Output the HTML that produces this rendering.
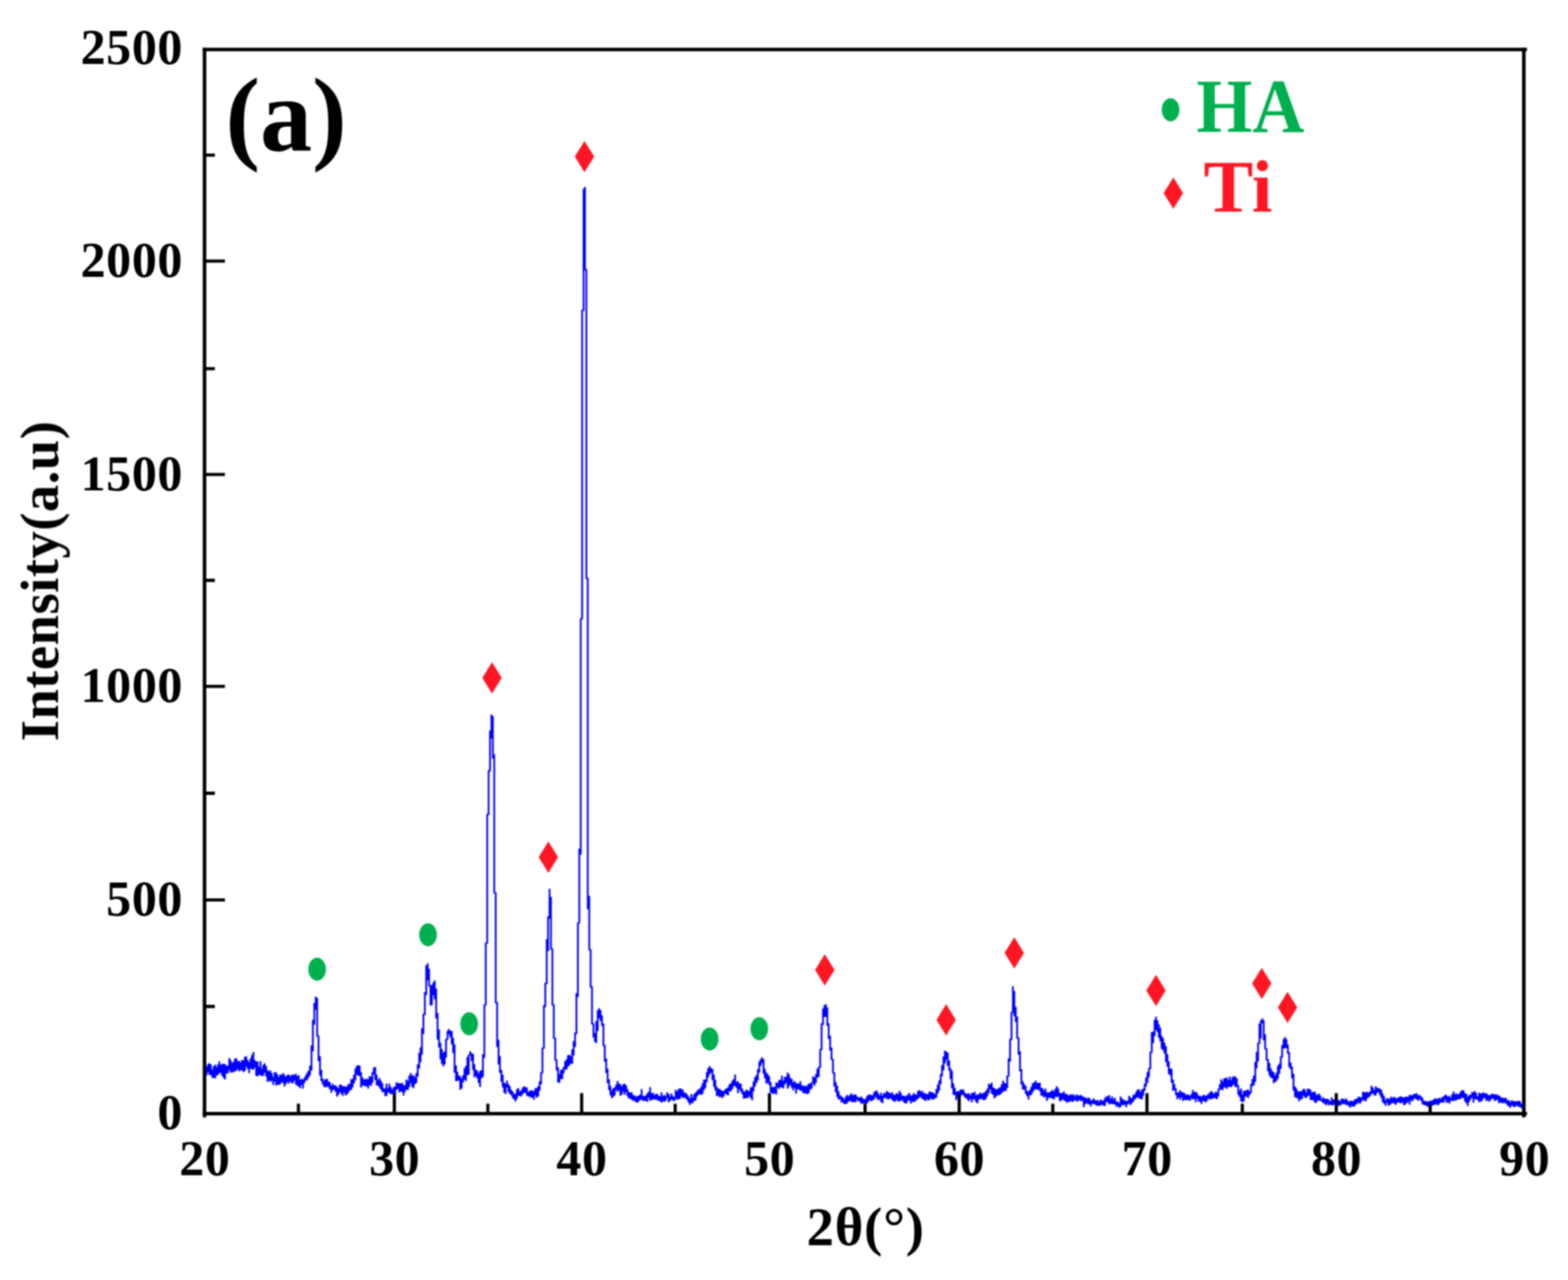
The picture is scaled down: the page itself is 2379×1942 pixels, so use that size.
<!DOCTYPE html>
<html lang="en"><head><meta charset="utf-8"><title>XRD pattern (a) HA / Ti</title>
<style>
html,body{margin:0;padding:0;background:#fff;}
body{width:2379px;height:1942px;overflow:hidden;}
svg{display:block;}
text{font-family:"Liberation Serif","DejaVu Serif",serif;font-weight:bold;}
.tk{font-size:76px;letter-spacing:0.8px;fill:#000;}
.lb{font-size:83px;fill:#000;}
.ax{stroke:#000;stroke-width:5.4;fill:none;}
.g{fill:#06b04f;}
.r{fill:#ff1520;}
</style></head><body>
<svg width="2379" height="1942" viewBox="0 0 2379 1942">
<defs><filter id="soft" x="0" y="0" width="2379" height="1942" filterUnits="userSpaceOnUse"><feGaussianBlur stdDeviation="1.0"/></filter></defs>
<rect x="0" y="0" width="2379" height="1942" fill="#fff"/>
<g filter="url(#soft)">
<path d="M311.3 1627.1V1630.3M313.5 1617.9V1631.5M315.6 1614.6V1627M317.8 1613V1630.9M319.9 1614.9V1630.9M322.1 1622.7V1635.3M324.2 1617.6V1635.6M326.4 1615.3V1635.9M328.5 1618.9V1631.9M330.7 1615.1V1630.7M332.8 1610.2V1628.3M335 1615.4V1628M337.1 1614.1V1632.6M339.3 1614V1635.6M341.4 1614.3V1637.8M343.6 1617.1V1628.7M345.7 1616.5V1628.6M347.9 1605.3V1623.6M350 1608.3V1627.4M352.2 1612.6V1626.3M354.3 1611V1627M356.5 1605.9V1625.3M358.6 1605.5V1624.6M360.8 1610V1621.9M362.9 1609.4V1625.5M365.1 1611.7V1624M367.2 1608.3V1623.9M369.4 1608.7V1626.5M371.5 1603.3V1625.1M373.7 1602.7V1618.3M375.8 1608.2V1622M378 1611.3V1628.2M380.1 1605.4V1621.3M382.3 1600.4V1622.3M384.4 1595.9V1623M386.6 1608.6V1619.8M388.7 1610.2V1632.2M390.9 1610.6V1633.3M393 1618.3V1630.8M395.2 1610.1V1631.3M397.3 1621.3V1632.8M399.5 1615.5V1632.1M401.6 1613.2V1627.5M403.8 1617.4V1633.5M405.9 1623.4V1641.5M408.1 1625.4V1639.4M410.2 1624V1641M412.4 1628.1V1640.1M414.5 1633.5V1646.1M416.7 1626.4V1641M418.8 1626.9V1647.1M421 1630.1V1645.5M423.1 1633.8V1646.1M425.3 1630V1644.8M427.4 1630.9V1642M429.6 1628V1643.2M431.7 1631.3V1648.4M433.9 1633.6V1644.8M436 1630.8V1641.8M438.2 1630.2V1644.1M440.3 1632.7V1640.5M442.5 1631.1V1643.5M444.6 1630.3V1643.2M446.8 1631.2V1639.2M448.9 1628.9V1645.4M451.1 1632.7V1647.3M453.2 1631.1V1648.6M455.4 1637.9V1651M457.5 1636.8V1645.7M459.7 1638V1651.4M461.8 1635.1V1643.2M464 1631.2V1639.8M466.1 1627.5V1638.4M468.3 1624.2V1635M470.4 1616.8V1631.3M472.6 1586.3V1624M474.7 1547.3V1594.9M476.9 1521.8V1554.7M479 1512.1V1532.1M481.2 1514.1V1573M483.3 1571.2V1609.9M485.5 1602.4V1632.1M487.6 1623.3V1640.6M489.8 1636.6V1645.5M491.9 1639.5V1649.3M494.1 1637V1649.6M496.2 1636.7V1648.4M498.4 1640.4V1649.5M500.5 1642.1V1652.8M502.7 1646.9V1658M504.8 1644.1V1653.8M507 1646.9V1653.6M509.1 1646.6V1656.4M511.3 1648.7V1663.8M513.4 1651V1660.9M515.6 1645.5V1657.1M517.7 1645.8V1659.6M519.9 1648.2V1662.7M522 1647.8V1657.6M524.2 1648.7V1661.9M526.3 1648.5V1660.4M528.5 1644.9V1658.3M530.6 1644.3V1654.5M532.8 1637.5V1653.7M534.9 1636.4V1650.1M537.1 1630.4V1644M539.2 1621.1V1639.3M541.4 1617V1630.5M543.5 1616V1631.9M545.7 1616.7V1632.8M547.8 1626.6V1650M550 1634.6V1646.8M552.1 1637.4V1647.2M554.2 1637.4V1648.3M556.4 1636.6V1648M558.6 1637.5V1651.4M560.7 1632.8V1646.5M562.9 1633.4V1647.4M565 1626.5V1642.9M567.2 1619.6V1630.3M569.3 1618.8V1638.7M571.5 1630.3V1646.7M573.6 1638.5V1647.2M575.8 1635.6V1649.9M577.9 1639.5V1653.1M580.1 1643.3V1657.1M582.2 1650.7V1657.1M584.4 1651.6V1663.1M586.5 1644V1662.7M588.7 1650.7V1657.3M590.8 1643.9V1658.2M593 1649.1V1660.2M595.1 1652.8V1659.8M597.2 1649.6V1658.3M599.4 1648.2V1660M601.6 1642.1V1653.4M603.7 1643.8V1652.3M605.9 1643.1V1657.5M608 1644V1655.7M610.2 1642.9V1657.1M612.3 1646.5V1662M614.5 1646.2V1656.7M616.6 1637.7V1652.9M618.8 1639.9V1654M620.9 1631.9V1649.6M623.1 1628.1V1643.6M625.2 1631.8V1648.7M627.4 1631.5V1650.9M629.5 1633.9V1644.9M631.7 1628V1643.2M633.8 1614.8V1633.3M636 1597.2V1621.2M638.1 1588.8V1611.4M640.2 1559.9V1599.9M642.4 1537.9V1568.8M644.6 1505.2V1540.1M646.7 1464.5V1509.4M648.9 1461.6V1487.4M651 1469.8V1496.5M653.2 1494.7V1525.7M655.3 1494.4V1524.8M657.5 1490.6V1509.9M659.6 1487.6V1516.3M661.8 1499.9V1545.2M663.9 1536.9V1577.2M666.1 1561.9V1589.2M668.2 1582.1V1607.2M670.4 1591.5V1613.9M672.5 1597.2V1617.8M674.7 1595V1615.1M676.8 1575.9V1604.4M679 1564.1V1577.7M681.1 1561.1V1569.2M683.2 1564.1V1574.1M685.4 1564.1V1584.4M687.6 1574.8V1597.8M689.7 1584.4V1627.4M691.9 1616.5V1640.6M694 1626.1V1639.8M696.2 1631.8V1639.8M698.3 1633V1653.4M700.5 1636.3V1651.3M702.6 1631.3V1642.2M704.8 1620.7V1637.9M706.9 1616.9V1640.3M709.1 1603.6V1631.2M711.2 1599.9V1630.5M713.4 1595.1V1601.7M715.5 1598.1V1610M717.7 1599V1623.5M719.8 1614.4V1634.4M722 1622.7V1632.8M724.1 1624.5V1636.3M726.2 1628.6V1643.1M728.4 1624.7V1649.2M730.6 1623.6V1636M732.7 1599.5V1633.7M734.9 1523.8V1605M737 1430V1525.6M739.2 1234.7V1431.8M741.3 1168.4V1236.5M743.5 1108.2V1170.5M745.6 1084.1V1120.4M747.8 1086.6V1150.9M749.9 1144.3V1355.6M752.1 1353.8V1521.9M754.2 1520.1V1588.6M756.4 1577.5V1614.8M758.5 1602.2V1627.7M760.7 1623.3V1641.2M762.8 1630.4V1649.7M765 1642.4V1657.8M767.1 1644.2V1660M769.2 1639.6V1650.1M771.4 1644.8V1656.7M773.6 1647.9V1659.8M775.7 1653.5V1661.7M777.9 1656.1V1665.9M780 1659.4V1668.3M782.2 1659.5V1671.3M784.3 1652.5V1667.3M786.5 1650.9V1662.6M788.6 1656.1V1663M790.8 1653.9V1663.4M792.9 1650.2V1660.2M795.1 1648V1657.9M797.2 1649.6V1657.9M799.4 1649.9V1662.3M801.5 1656.7V1663.4M803.7 1655.2V1663.8M805.8 1654V1665.4M808 1654.7V1665.2M810.1 1655.4V1668.4M812.2 1651V1661.9M814.4 1650.7V1665.4M816.6 1648.1V1663.6M818.7 1640.5V1654.9M820.9 1626.8V1645.3M823 1589.2V1628.6M825.2 1525V1591M827.3 1491.1V1528.1M829.5 1425V1492.9M831.6 1390.2V1443.1M833.8 1348.6V1393.7M835.9 1360.7V1440.8M838.1 1439V1525.5M840.2 1523.7V1576M842.4 1574.2V1609.2M844.5 1607.4V1623.9M846.7 1619.3V1642.2M848.8 1629.6V1642.9M851 1623.3V1637.3M853.1 1622.6V1636.9M855.2 1618.6V1628.5M857.4 1609.9V1622.5M859.6 1606.9V1623M861.7 1601.1V1618.6M863.9 1600.2V1616.6M866 1602.6V1613.5M868.2 1592V1614.3M870.3 1579.4V1601.6M872.5 1566.6V1588.4M874.6 1506.7V1568.9M876.8 1399.5V1512.8M878.9 1287.4V1401.3M881.1 938V1296.5M883.2 470V939.8M885.4 286.6V471.8M887.5 283.6V409.9M889.7 408.1V878.5M891.8 876.7V1379.4M894 1359.3V1441.8M896.1 1440V1498.4M898.2 1496.3V1554.3M900.4 1552.5V1574M902.6 1567.2V1580.8M904.7 1549.1V1582.4M906.9 1532.6V1564.2M909 1529.6V1545M911.2 1532.6V1548.9M913.3 1540.5V1556.5M915.5 1552.8V1587.3M917.6 1585.5V1610.7M919.8 1605.9V1627.9M921.9 1621.4V1643.6M924.1 1637.5V1653.9M926.2 1647.6V1661.8M928.4 1654.4V1666.2M930.5 1651V1664.1M932.7 1649.7V1662M934.8 1645.4V1653.8M937 1640.1V1656.2M939.1 1643.7V1654.3M941.2 1645V1662.6M943.4 1648.2V1660.7M945.6 1645V1655.9M947.7 1644.2V1661.1M949.9 1646.5V1657.2M952 1651.9V1663.3M954.2 1656.7V1666.7M956.3 1657.8V1667.1M958.5 1657.3V1668.6M960.6 1661.5V1670.3M962.8 1661.8V1669.7M964.9 1664.1V1672.3M967.1 1663V1673.1M969.2 1661.9V1671.1M971.4 1660.8V1668.8M973.5 1652.2V1668.2M975.7 1662.6V1670.5M977.8 1663V1670M980 1661.7V1670.2M982.1 1658.8V1671.7M984.2 1656.4V1665.5M986.4 1649.6V1670.3M988.6 1658.9V1668.4M990.7 1657.8V1668.6M992.9 1661.2V1667.9M995 1659.6V1668.5M997.2 1659.8V1668.7M999.3 1662.5V1670.4M1001.5 1662.9V1670.6M1003.6 1657.3V1673.1M1005.8 1662.9V1670.8M1007.9 1661V1671.7M1010.1 1663.1V1670.1M1012.2 1657.3V1665.8M1014.4 1659.6V1672.6M1016.5 1663.4V1670.4M1018.7 1659V1668M1020.8 1662.7V1669.7M1023 1664.2V1670.4M1025.1 1653.6V1667.2M1027.2 1655.8V1668.6M1029.4 1652.4V1667.7M1031.5 1651.3V1667.2M1033.7 1652.1V1663.5M1035.9 1653.3V1665.9M1038 1657.4V1665M1040.2 1657.9V1666.4M1042.3 1659.9V1668.4M1044.5 1663.2V1672.6M1046.6 1666.4V1676.5M1048.8 1659.9V1673.5M1050.9 1665.1V1674.1M1053 1659.9V1670.6M1055.2 1657.8V1670M1057.4 1655.6V1664.2M1059.5 1652.7V1661M1061.7 1652.1V1659.9M1063.8 1648.8V1661.3M1066 1643.5V1659.4M1068.1 1638.1V1653.8M1070.2 1637.8V1650.8M1072.4 1626.6V1641.7M1074.5 1620.6V1634.7M1076.7 1617.6V1629.9M1078.9 1620.6V1627.5M1081 1621.8V1638.8M1083.2 1630.2V1648.8M1085.3 1638.2V1654.4M1087.5 1648.4V1662.9M1089.6 1651.8V1662.2M1091.8 1652V1664.7M1093.9 1653.9V1664M1096 1655V1666.1M1098.2 1655.3V1663.3M1100.3 1652.6V1659.3M1102.5 1651.2V1660.5M1104.7 1649.4V1662M1106.8 1645.1V1655.7M1109 1643.6V1655.7M1111.1 1639.7V1652.2M1113.2 1636.9V1647.9M1115.4 1630.2V1647.7M1117.5 1641.5V1650.5M1119.7 1640.4V1658.6M1121.8 1643.9V1653M1124 1644.3V1656.2M1126.2 1651.8V1660.3M1128.3 1656.1V1666.7M1130.5 1655.7V1666.5M1132.6 1653V1665.9M1134.8 1654.8V1665.5M1136.9 1654.9V1662.6M1139 1649.8V1665.9M1141.2 1649.1V1669.3M1143.3 1640.7V1655.7M1145.5 1634.2V1648.5M1147.7 1631.3V1643.2M1149.8 1622.2V1639.6M1152 1610.6V1627.4M1154.1 1607.1V1617.1M1156.2 1604.1V1612.8M1158.4 1607.1V1629.3M1160.5 1621.7V1636.1M1162.7 1627.3V1644.2M1164.8 1629.8V1642.4M1167 1632.8V1646.3M1169.2 1641.6V1657.7M1171.3 1649.3V1658.7M1173.5 1649V1659.9M1175.6 1648.8V1658.5M1177.8 1642.3V1660.4M1179.9 1643.2V1650M1182 1638.7V1652.2M1184.2 1638.2V1649.1M1186.3 1631.9V1650.3M1188.5 1639.5V1651.2M1190.7 1633.9V1645.4M1192.8 1633.6V1643M1195 1627.3V1651.8M1197.1 1630V1648.4M1199.2 1635.4V1645.7M1201.4 1637.1V1650.3M1203.5 1641.9V1654.6M1205.7 1640.2V1650.8M1207.8 1643.4V1659.2M1210 1643.5V1653.3M1212.2 1644.4V1652.4M1214.3 1640.2V1654.9M1216.5 1645.9V1655.1M1218.6 1648V1658.5M1220.8 1646.9V1658.9M1222.9 1648.8V1658.6M1225 1646.6V1660.2M1227.2 1644.1V1658.5M1229.3 1644.1V1653.2M1231.5 1642.1V1651.4M1233.7 1632.9V1643.9M1235.8 1634.7V1647.3M1238 1629.4V1643.1M1240.1 1621.6V1635.2M1242.2 1618.5V1633.7M1244.4 1591.7V1620.3M1246.5 1552.6V1593.5M1248.7 1530.2V1555.1M1250.8 1525.2V1543.1M1253 1523.6V1543M1255.2 1528.4V1556.3M1257.3 1552.6V1576.2M1259.5 1571.5V1594.1M1261.6 1589.3V1608.3M1263.8 1606.5V1628.7M1265.9 1626.9V1648.4M1268 1641.4V1657M1270.2 1647.3V1664.2M1272.3 1655.4V1668.3M1274.5 1661.6V1667.6M1276.7 1663.4V1672.8M1278.8 1665V1672.5M1281 1667.9V1674.9M1283.1 1664V1675M1285.2 1660.9V1673.9M1287.4 1663.5V1671.3M1289.5 1661.2V1670.3M1291.7 1658.7V1671.6M1293.8 1661.7V1672.2M1296 1660.7V1672.1M1298.2 1660.6V1672.3M1300.3 1663.6V1668.4M1302.5 1665.1V1670.8M1304.6 1664.9V1671.6M1306.8 1663.6V1674.8M1308.9 1666.2V1674.1M1311 1667.9V1674.2M1313.2 1667V1676.8M1315.3 1663.2V1674.3M1317.5 1661.1V1671.5M1319.7 1660.7V1668.9M1321.8 1661.1V1670.7M1324 1662.1V1669.6M1326.1 1657.3V1667.9M1328.2 1655.3V1664.2M1330.4 1654.8V1666.5M1332.5 1658.5V1669.3M1334.7 1662V1667.8M1336.8 1657.7V1672M1339 1662V1673.8M1341.2 1658.3V1666.3M1343.3 1658.5V1665.2M1345.5 1655.3V1667M1347.6 1657V1668.3M1349.8 1657.9V1666.7M1351.9 1659V1666.9M1354 1657.3V1669.2M1356.2 1661.6V1671M1358.3 1660.6V1671.4M1360.5 1658.5V1668.7M1362.7 1660.1V1671M1364.8 1655V1671M1367 1658.3V1669.7M1369.1 1663.1V1669.6M1371.2 1662V1672.4M1373.4 1663.4V1674M1375.5 1662.5V1674.1M1377.7 1660.4V1670M1379.8 1658.3V1669.8M1382 1662.1V1674.6M1384.2 1661.5V1671.5M1386.3 1658.3V1671.9M1388.5 1660.4V1670.9M1390.6 1660.7V1668.8M1392.8 1655.3V1667.3M1394.9 1653.8V1665.1M1397.1 1656.4V1664.2M1399.2 1655.1V1667.5M1401.3 1658.3V1668.1M1403.5 1658.5V1670.5M1405.7 1659.8V1667.7M1407.8 1659.9V1669.6M1410 1656V1669M1412.1 1656.7V1666.2M1414.2 1657.2V1668.1M1416.4 1658V1668.3M1418.6 1660.2V1666.4M1420.7 1652.2V1665.2M1422.8 1645.6V1659.3M1425 1639.2V1654.8M1427.2 1629.5V1645.1M1429.3 1615.7V1632.8M1431.5 1603V1623.7M1433.6 1594.1V1613.3M1435.8 1595.4V1607.7M1437.9 1597.1V1617.3M1440.1 1609V1624.3M1442.2 1620.8V1637.2M1444.3 1624.4V1650.9M1446.5 1643.7V1661M1448.7 1650.3V1661.5M1450.8 1656.3V1669.2M1453 1655.6V1665.4M1455.1 1655.5V1664.9M1457.2 1652.9V1663.5M1459.4 1653.2V1660.9M1461.6 1652.8V1661.4M1463.7 1657.5V1664.7M1465.8 1659.6V1666.3M1468 1659.1V1668.4M1470.2 1658.7V1670.7M1472.3 1661.8V1667.3M1474.5 1658.1V1672.5M1476.6 1658.4V1667.9M1478.8 1656.4V1668.3M1480.9 1661.7V1671.9M1483.1 1660.2V1674.1M1485.2 1660.2V1668.3M1487.3 1657.7V1667.6M1489.5 1659.6V1667.3M1491.7 1658.4V1669.1M1493.8 1657.6V1669M1496 1655.1V1667.3M1498.1 1651.7V1663M1500.2 1644.2V1658.6M1502.4 1645.2V1653.1M1504.6 1642.6V1659.2M1506.7 1649.7V1661.1M1508.8 1650.9V1666.6M1511 1652.4V1664M1513.2 1652.8V1661.5M1515.3 1650.7V1661.8M1517.5 1649.8V1660.8M1519.6 1645.5V1658.5M1521.8 1639.5V1656.4M1523.9 1642.8V1654.9M1526.1 1643.9V1655.5M1528.2 1631.8V1651.1M1530.3 1605.7V1633.6M1532.5 1576.1V1610.4M1534.7 1534.9V1577.9M1536.8 1496.3V1536.7M1539 1503.6V1541.7M1541.1 1527.4V1550.5M1543.2 1542.1V1575.7M1545.4 1573.9V1600.3M1547.6 1594.9V1625.6M1549.7 1622.1V1645.5M1551.8 1640.6V1652.9M1554 1644.8V1653.2M1556.2 1647.4V1659.5M1558.3 1655.1V1663M1560.5 1656.2V1668.3M1562.6 1653.3V1662.1M1564.8 1648.7V1661.3M1566.9 1643.2V1657.3M1569.1 1642.4V1654.1M1571.2 1639.6V1652M1573.3 1642.8V1653.4M1575.5 1643V1652.7M1577.7 1642.8V1655.7M1579.8 1650.2V1662.4M1582 1651.3V1662.4M1584.1 1654.4V1664.9M1586.2 1651.8V1663.9M1588.4 1657.4V1670.3M1590.6 1657.2V1666.3M1592.7 1657.3V1665.3M1594.8 1655.4V1665.9M1597 1653.5V1666.7M1599.2 1655.7V1668.1M1601.3 1651.8V1663.9M1603.5 1648.1V1664.5M1605.6 1651.6V1663.7M1607.8 1658.1V1670.5M1609.9 1658.2V1670.6M1612.1 1658.5V1667.8M1614.2 1656V1669.3M1616.3 1659.8V1670.4M1618.5 1659.6V1673.1M1620.7 1661.9V1671.4M1622.8 1661.3V1671.8M1625 1660.1V1670.2M1627.1 1661.7V1671.9M1629.2 1660.3V1670.4M1631.4 1663.3V1668.8M1633.6 1660.6V1671.3M1635.7 1661.7V1670.7M1637.8 1662.2V1668.7M1640 1661.3V1670.4M1642.2 1663.3V1670.3M1644.3 1664.4V1680M1646.5 1664.8V1675.4M1648.6 1666.9V1673.4M1650.8 1665.3V1675.3M1652.9 1666V1675.6M1655.1 1669.7V1678.7M1657.2 1668.8V1674.6M1659.3 1666.5V1675M1661.5 1669V1675.5M1663.7 1670.1V1677.5M1665.8 1669V1677.8M1668 1671.5V1677.8M1670.1 1668V1677M1672.2 1670.2V1675.9M1674.4 1669.2V1677.7M1676.6 1665.6V1677.8M1678.7 1663.3V1671.7M1680.8 1663.5V1672.7M1683 1661.5V1675.4M1685.2 1667V1674.6M1687.3 1663.5V1675.3M1689.5 1667.7V1675M1691.6 1665.4V1675.8M1693.8 1671.2V1679.2M1695.9 1671.2V1678M1698.1 1673.5V1680.8M1700.2 1663.6V1679.6M1702.3 1666.5V1676.2M1704.5 1668.4V1676.8M1706.7 1669.5V1676.3M1708.8 1670V1680.1M1711 1670.3V1675.5M1713.1 1662.5V1674.3M1715.2 1664.9V1676.8M1717.4 1666.2V1673.7M1719.5 1661.2V1671.3M1721.7 1660.2V1668.2M1723.8 1656.2V1666.3M1726 1653.1V1664.8M1728.2 1652.8V1666.2M1730.3 1656.8V1667.2M1732.5 1652.9V1668.1M1734.6 1651.6V1662.6M1736.8 1643.8V1655M1738.9 1634.4V1648.3M1741 1626.4V1642.8M1743.2 1620.2V1634.8M1745.3 1595.8V1622M1747.5 1565.9V1597.6M1749.7 1565V1582.5M1751.8 1547.2V1571.9M1754 1542.6V1562.4M1756.1 1548.1V1565.9M1758.2 1553.9V1574.5M1760.4 1559.3V1579.8M1762.5 1571.6V1591.3M1764.7 1575.1V1593.5M1766.8 1582.1V1598.5M1769 1587.2V1611.6M1771.2 1599.2V1618.2M1773.3 1610V1629.4M1775.5 1620.9V1631.6M1777.6 1621.6V1642.8M1779.8 1638V1655M1781.9 1644.8V1653.9M1784 1651.1V1661.4M1786.2 1657.8V1667.8M1788.3 1657.2V1665.1M1790.5 1654V1668.4M1792.7 1656.9V1664.7M1794.8 1657.6V1670.2M1797 1658.2V1668.5M1799.1 1661V1669.2M1801.2 1660.6V1669.3M1803.4 1660.9V1668.4M1805.5 1662.5V1670.2M1807.7 1659.5V1666.5M1809.8 1653.7V1667.9M1812 1656.8V1667.4M1814.2 1656.6V1672.6M1816.3 1658.2V1667M1818.5 1662.2V1671.2M1820.6 1662.4V1671.6M1822.8 1663.7V1675.1M1824.9 1662.1V1670.2M1827 1660.9V1671M1829.2 1662.9V1672.5M1831.3 1661.6V1670.6M1833.5 1659.7V1666.8M1835.7 1657.2V1668.3M1837.8 1655.3V1667M1840 1657.5V1667.3M1842.1 1659.4V1665.6M1844.2 1656.6V1666.4M1846.4 1657.4V1667.8M1848.5 1651.8V1663.6M1850.7 1644.9V1653.7M1852.8 1637.4V1652.7M1855 1640.7V1654.2M1857.2 1636.3V1650M1859.3 1635.4V1649.8M1861.5 1635V1651.9M1863.6 1638.6V1649M1865.8 1633.5V1649.1M1867.9 1638.4V1649.6M1870 1634V1647.2M1872.2 1632.8V1645.2M1874.3 1633.4V1649.2M1876.5 1636.1V1648.7M1878.7 1646.2V1661M1880.8 1654.5V1664.6M1883 1651.2V1670.7M1885.1 1660.2V1672.6M1887.2 1654.8V1670.7M1889.4 1655.1V1663.9M1891.5 1653.7V1663.3M1893.7 1653.1V1665.9M1895.8 1655.8V1661.8M1898 1644.4V1658.6M1900.2 1637.1V1648M1902.3 1631.8V1646.7M1904.5 1610.9V1641.4M1906.6 1595.9V1620.7M1908.8 1581.9V1610.6M1910.9 1552.7V1583.7M1913 1548.1V1575.6M1915.2 1545.1V1552.5M1917.3 1548.1V1578.4M1919.5 1569.3V1592.3M1921.7 1590.5V1609M1923.8 1606.7V1625.3M1926 1612.4V1631.6M1928.1 1620.5V1634.8M1930.2 1625.1V1636.1M1932.4 1626.7V1643.2M1934.5 1631.8V1641.9M1936.7 1627.8V1639.9M1938.8 1617V1636.8M1941 1613.8V1629.2M1943.2 1602.6V1621.8M1945.3 1585.6V1604.6M1947.5 1576.6V1590.8M1949.6 1573.6V1590.7M1951.8 1576.6V1589.9M1953.9 1584.6V1598.7M1956 1596V1619.2M1958.2 1612.1V1622.2M1960.3 1618.1V1636M1962.5 1629V1654.4M1964.7 1648.3V1664.6M1966.8 1650.9V1665.6M1969 1655.3V1666.7M1971.1 1656.6V1671M1973.2 1655.2V1668.1M1975.4 1655.3V1667.6M1977.5 1652.1V1662M1979.7 1652.6V1665.1M1981.8 1657.3V1666M1984 1651.7V1663.2M1986.2 1652V1661.9M1988.3 1653.6V1668.9M1990.5 1657.6V1668.6M1992.6 1656.4V1669.4M1994.8 1656.2V1672.7M1996.9 1660.3V1673.3M1999 1661.2V1670.1M2001.2 1658.9V1670M2003.3 1662.3V1669.8M2005.5 1667.3V1671.7M2007.7 1664.5V1673.6M2009.8 1667V1674.4M2012 1667.2V1677.1M2014.1 1666.9V1674.5M2016.2 1668.4V1677M2018.4 1671.2V1675.9M2020.5 1664.9V1676.7M2022.7 1668.3V1676.9M2024.8 1667.7V1675.4M2027 1668.2V1676.5M2029.2 1668.3V1677.9M2031.3 1669.1V1677.6M2033.5 1670.5V1677.6M2035.6 1667.1V1675.3M2037.8 1666.7V1675.2M2039.9 1668.6V1674.6M2042 1666.6V1676.4M2044.2 1669V1676.5M2046.3 1671.8V1678.3M2048.5 1670.1V1680.4M2050.7 1669.9V1677.9M2052.8 1670.9V1678.9M2054.9 1668.7V1678.7M2057.1 1667V1675.7M2059.2 1666.6V1674.5M2061.4 1663.7V1672.4M2063.6 1664.5V1674.8M2065.7 1665.2V1671.4M2067.8 1656.4V1668.8M2070 1656.9V1669.7M2072.2 1657.3V1670.9M2074.3 1656.4V1666.8M2076.4 1657.9V1665.1M2078.6 1655.8V1663.2M2080.8 1647.3V1660M2082.9 1649.9V1659.1M2085.1 1653.8V1661.9M2087.2 1648.3V1662.2M2089.3 1650.4V1658.1M2091.5 1650.8V1657.2M2093.7 1651.8V1661.6M2095.8 1653.6V1665.7M2097.9 1658.9V1672.5M2100.1 1663.3V1674.6M2102.2 1669V1677.7M2104.4 1666.3V1673M2106.6 1666.4V1677.6M2108.7 1667.2V1676.6M2110.8 1663.7V1674.5M2113 1665.7V1673.5M2115.2 1664V1673.9M2117.3 1665.6V1676.5M2119.4 1666.7V1673.6M2121.6 1665.1V1672.2M2123.8 1663.5V1673.3M2125.9 1663.5V1674.1M2128.1 1664.7V1672.5M2130.2 1664.9V1677.1M2132.3 1664V1675.4M2134.5 1663.7V1673.6M2136.7 1663.9V1671.6M2138.8 1661.1V1676.1M2140.9 1661.6V1669.4M2143.1 1661.7V1671.1M2145.2 1659.4V1667.6M2147.4 1659.4V1666.6M2149.6 1658.7V1668.2M2151.7 1662.3V1670.1M2153.8 1661V1667.5M2156 1663.3V1670.3M2158.2 1665.4V1675.4M2160.3 1670V1676.3M2162.4 1670.4V1677.1M2164.6 1671.1V1678.1M2166.8 1671.3V1679.6M2168.9 1670.3V1677.3M2171.1 1670V1679.3M2173.2 1669.4V1677.3M2175.3 1668.1V1676.5M2177.5 1666.2V1676.2M2179.7 1667.2V1675.2M2181.8 1667.1V1677.1M2183.9 1665.4V1674.4M2186.1 1666.8V1672.8M2188.2 1664.5V1673M2190.4 1663.6V1672.8M2192.6 1661V1668.4M2194.7 1661.6V1673.3M2196.8 1663.9V1671.9M2199 1662.4V1674.5M2201.2 1665.3V1670.6M2203.3 1659.9V1670.1M2205.4 1656.1V1670.6M2207.6 1660.4V1669.8M2209.8 1658.7V1669.2M2211.9 1660.8V1668.1M2214.1 1659.2V1668M2216.2 1655.9V1666.9M2218.3 1654.1V1665.1M2220.5 1654.2V1666.1M2222.7 1658.6V1671.3M2224.8 1659.6V1673.8M2226.9 1664.1V1677.9M2229.1 1661.2V1671.9M2231.2 1661.1V1668.3M2233.4 1657.1V1665.4M2235.6 1657.1V1672.9M2237.7 1655.2V1667.8M2239.8 1658.4V1667.9M2242 1663.2V1669M2244.2 1657.8V1672.2M2246.3 1659.4V1671.4M2248.4 1658.6V1670.3M2250.6 1657.6V1666.9M2252.8 1658.9V1665.4M2254.9 1658.6V1670.4M2257.1 1660.4V1669.1M2259.2 1661.9V1671.4M2261.3 1661V1669.5M2263.5 1659.6V1667.1M2265.7 1659.7V1667.1M2267.8 1660.4V1670.5M2269.9 1660.2V1669.3M2272.1 1661.3V1669M2274.2 1661.7V1673.7M2276.4 1664V1672.6M2278.6 1665.5V1673.6M2280.7 1665.6V1673.7M2282.8 1666.1V1673M2285 1665.8V1674.5M2287.2 1669.4V1677M2289.3 1669V1678.4M2291.4 1672.1V1680.7M2293.6 1669.5V1677.2M2295.8 1670.4V1678.4M2297.9 1670.7V1680.1M2300.1 1670.7V1678.1M2302.2 1670.7V1677.8M2304.3 1669.9V1679.5M2306.5 1671.3V1679.6M2308.7 1675.1V1681.7M2310.8 1673.7V1681.7M2312.9 1675.7V1677.6" fill="none" stroke="#0000ff" stroke-width="2.7" stroke-linecap="butt"/>
<g class="ax">
<path d="M310.3 72.4 V1695.3"/>
<path d="M2312.0 72.4 V1695.3"/>
<path d="M307.6 75.1 H2316.7"/>
<path d="M307.6 1689.6 H2316.7"/>
<path d="M310.3 1365.3 H341.3 M310.3 1041.3 H341.3 M310.3 719.9 H341.3 M310.3 396.2 H341.3 M310.3 1527 H326.0 M310.3 1203.5 H326.0 M310.3 880.5 H326.0 M310.3 559.4 H326.0 M310.3 235.3 H326.0 M598.3 1689.6 V1658.5 M882.5 1689.6 V1658.5 M1167.4 1689.6 V1658.5 M1455.3 1689.6 V1658.5 M1740.2 1689.6 V1658.5 M2027.4 1689.6 V1658.5 M452.8 1689.6 V1674.5 M740.2 1689.6 V1674.5 M1024.4 1689.6 V1674.5 M1312.5 1689.6 V1674.5 M1597.3 1689.6 V1674.5 M1884.9 1689.6 V1674.5 M2169.9 1689.6 V1674.5" stroke-width="4.8"/>
</g>
<g class="tk" text-anchor="end">
<text x="277.5" y="1712.8">0</text>
<text x="277.5" y="1389.1">500</text>
<text x="277.5" y="1065.1">1000</text>
<text x="277.5" y="743.7">1500</text>
<text x="277.5" y="420">2000</text>
<text x="277.5" y="97.4">2500</text>
</g>
<g class="tk" text-anchor="middle">
<text x="310.7" y="1782.6">20</text>
<text x="598.7" y="1782.6">30</text>
<text x="882.9" y="1782.6">40</text>
<text x="1167.8" y="1782.6">50</text>
<text x="1455.7" y="1782.6">60</text>
<text x="1740.6" y="1782.6">70</text>
<text x="2027.8" y="1782.6">80</text>
<text x="2313.2" y="1782.6">90</text>
</g>
<text class="lb" text-anchor="middle" x="1313.5" y="1889" style="letter-spacing:1.2px">2θ(°)</text>
<text class="lb" text-anchor="middle" transform="translate(88 881.5) rotate(-90)" style="letter-spacing:0.65px">Intensity(a.u)</text>
<text x="342" y="227.5" style="font-size:158px" fill="#000">(a)</text>
<ellipse class="g" cx="1776" cy="166.6" rx="13.4" ry="17.7"/>
<text transform="translate(1815.3 200.3) scale(0.937 1)" style="font-size:116.5px;fill:#06b04f">HA</text>
<path class="r" d="M1780.2 269.3 L1794.9 293 L1780.2 316.8 L1765.5 293 Z"/>
<text x="1826" y="321.2" style="font-size:113px;fill:#ff1520">Ti</text>
<ellipse class="g" cx="481.1" cy="1470.5" rx="13.4" ry="17.5"/>
<ellipse class="g" cx="649.4" cy="1418.2" rx="13.4" ry="17.5"/>
<ellipse class="g" cx="711.8" cy="1553.3" rx="13.4" ry="17.5"/>
<ellipse class="g" cx="1076.7" cy="1576.4" rx="13.4" ry="17.5"/>
<ellipse class="g" cx="1152" cy="1560.8" rx="13.4" ry="17.5"/>
<path class="r" d="M746.5 1004.8 l14.7 23.7 l-14.7 23.7 l-14.7 -23.7 Z"/>
<path class="r" d="M832 1276.8 l14.7 23.7 l-14.7 23.7 l-14.7 -23.7 Z"/>
<path class="r" d="M886.8 213.9 l14.7 23.7 l-14.7 23.7 l-14.7 -23.7 Z"/>
<path class="r" d="M1251.4 1447.8 l14.7 23.7 l-14.7 23.7 l-14.7 -23.7 Z"/>
<path class="r" d="M1435.5 1523.6 l14.7 23.7 l-14.7 23.7 l-14.7 -23.7 Z"/>
<path class="r" d="M1538.9 1422 l14.7 23.7 l-14.7 23.7 l-14.7 -23.7 Z"/>
<path class="r" d="M1753.9 1479.1 l14.7 23.7 l-14.7 23.7 l-14.7 -23.7 Z"/>
<path class="r" d="M1914.4 1468.4 l14.7 23.7 l-14.7 23.7 l-14.7 -23.7 Z"/>
<path class="r" d="M1953.5 1504.7 l14.7 23.7 l-14.7 23.7 l-14.7 -23.7 Z"/>
</g>
</svg>
</body></html>
